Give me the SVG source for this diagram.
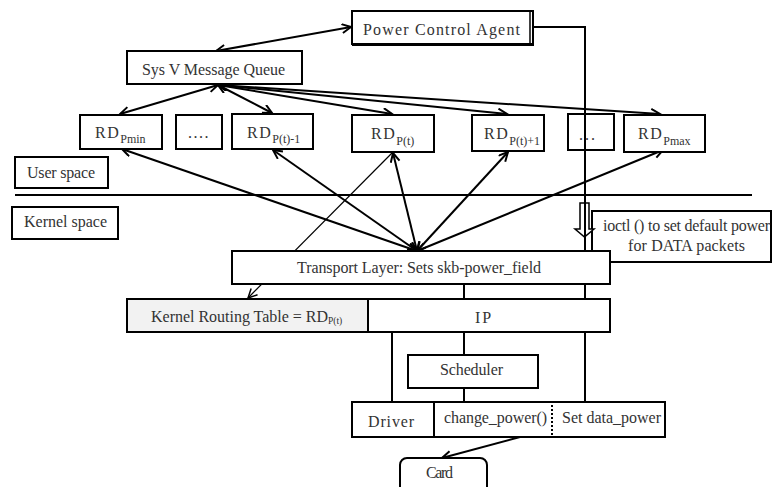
<svg xmlns="http://www.w3.org/2000/svg" width="773" height="487" viewBox="0 0 773 487">
<style>
.b{fill:#fff;stroke:#000;stroke-width:2}
.n{fill:none;stroke:#000;stroke-width:2}
.t{font-family:"Liberation Serif","Times New Roman",serif;font-size:16px;fill:#333}
.s{font-size:12px}
.xs{font-size:9.5px}
.c{fill:none;stroke:#000;stroke-width:2}
.a{marker-end:url(#ah)}
.d{marker-start:url(#ah);marker-end:url(#ah)}
</style>
<defs>
<marker id="ah" markerWidth="12" markerHeight="12" refX="10" refY="5" orient="auto-start-reverse" markerUnits="userSpaceOnUse">
<path d="M1,0.5 L10,5 L1,9.5" fill="none" stroke="#000" stroke-width="2"/>
</marker>
<marker id="ahs" markerWidth="12" markerHeight="12" refX="10" refY="5" orient="auto" markerUnits="userSpaceOnUse">
<path d="M1,0.5 L10,5 L1,9.5" fill="none" stroke="#000" stroke-width="1.5"/>
</marker>
</defs>

<g id="connectors">
<line class="c d" x1="216" y1="51" x2="351" y2="27"/>
<line class="c d" x1="218" y1="85" x2="120" y2="114"/>
<line class="c d" x1="218" y1="85" x2="272" y2="113"/>
<line class="c d" x1="218" y1="85" x2="392" y2="114"/>
<line class="c d" x1="218" y1="85" x2="507" y2="114"/>
<line class="c d" x1="218" y1="85" x2="660" y2="114"/>
<line class="c d" x1="417" y1="251" x2="122" y2="149"/>
<line class="c d" x1="417" y1="251" x2="273" y2="150"/>
<line class="c d" x1="417" y1="251" x2="393" y2="153"/>
<line class="c d" x1="417" y1="251" x2="508" y2="152"/>
<line class="c d" x1="417" y1="251" x2="663" y2="150"/>
<line x1="392" y1="153" x2="248" y2="298" stroke="#000" stroke-width="1.2" marker-end="url(#ahs)"/>
<line class="c" x1="15" y1="195" x2="752" y2="195"/>
<polyline class="c" points="533,27 585,27 585,402"/>
<line class="c" x1="464" y1="284" x2="464" y2="355"/>
<line class="c" x1="464" y1="388" x2="464" y2="402"/>
<line class="c" x1="392" y1="330" x2="392" y2="402"/>
<line class="c a" x1="520" y1="437" x2="442" y2="458"/>
</g>

<g id="pca">
<rect class="b" x="352" y="11" width="181" height="33"/>
<line x1="352" y1="44.5" x2="534" y2="44.5" stroke="#000" stroke-width="3"/>
<line x1="530" y1="11" x2="530" y2="44" stroke="#000" stroke-width="1.5"/>
<text class="t" x="363" y="35" textLength="157" lengthAdjust="spacing">Power Control Agent</text>
</g>

<g id="sysv">
<rect class="b" x="127" y="51" width="175" height="33"/>
<text class="t" x="142" y="75" textLength="143" lengthAdjust="spacing">Sys V Message Queue</text>
</g>

<g id="rd-pmin">
<rect class="b" x="80" y="115" width="82" height="34"/>
<text class="t" x="95" y="138" letter-spacing="1.5">RD<tspan class="s" dy="5" letter-spacing="0">Pmin</tspan></text>
</g>
<g id="dots1">
<rect class="b" x="176" y="115" width="46" height="34"/>
<text class="t" x="188" y="138" letter-spacing="1.5">....</text>
</g>
<g id="rd-pt-1">
<rect class="b" x="232" y="114" width="81" height="35"/>
<text class="t" x="247" y="138" letter-spacing="1.5">RD<tspan class="s" dy="5" letter-spacing="0">P(t)-1</tspan></text>
</g>
<g id="rd-pt">
<rect class="b" x="352" y="115" width="82" height="37"/>
<text class="t" x="371" y="139" letter-spacing="1.5">RD<tspan class="s" dy="6" letter-spacing="0">P(t)</tspan></text>
</g>
<g id="rd-pt1">
<rect class="b" x="472" y="115" width="72" height="36"/>
<text class="t" x="484" y="139" letter-spacing="1.5">RD<tspan class="s" dy="6" letter-spacing="0">P(t)+1</tspan></text>
</g>
<g id="dots2">
<rect class="n" x="568" y="114" width="46" height="36"/>
<text class="t" x="579" y="140" letter-spacing="2">...</text>
</g>
<g id="rd-pmax">
<rect class="b" x="624" y="115" width="81" height="37"/>
<text class="t" x="638" y="139" letter-spacing="1.5">RD<tspan class="s" dy="6" letter-spacing="0">Pmax</tspan></text>
</g>

<g id="user-space">
<rect class="b" x="15" y="157" width="93" height="31"/>
<text class="t" x="27" y="178" textLength="68" lengthAdjust="spacing">User space</text>
</g>
<g id="kernel-space">
<rect class="b" x="12" y="207" width="106" height="32"/>
<text class="t" x="24" y="227" textLength="83" lengthAdjust="spacing">Kernel space</text>
</g>

<g id="ioctl">
<rect class="b" x="592" y="211" width="179" height="51"/>
<text class="t" x="603" y="231" textLength="167" lengthAdjust="spacing">ioctl () to set default power</text>
<text class="t" x="628" y="251" textLength="117" lengthAdjust="spacing">for DATA packets</text>
<path d="M580,203 H589 V229 H594 L584.5,237 L575,229 H580 Z" fill="#fff" stroke="#000" stroke-width="1.5"/>
<line x1="585" y1="200" x2="585" y2="251" stroke="#000" stroke-width="2"/>
</g>

<g id="transport">
<rect class="b" x="232" y="251" width="378" height="33"/>
<text class="t" x="297" y="273" textLength="244" lengthAdjust="spacing">Transport Layer: Sets skb-power_field</text>
</g>

<g id="routing-table">
<rect x="127" y="299" width="241" height="33" fill="#f2f2f2" stroke="#000" stroke-width="2"/>
<text class="t" x="151" y="322"><tspan textLength="177" lengthAdjust="spacing">Kernel Routing Table = RD</tspan><tspan class="xs" dy="2">P(t)</tspan></text>
</g>
<g id="ip">
<rect class="b" x="368" y="299" width="242" height="33"/>
<text class="t" x="475" y="323" letter-spacing="2">IP</text>
</g>

<g id="scheduler">
<rect class="b" x="408" y="355" width="130" height="33"/>
<text class="t" x="440" y="375" textLength="63" lengthAdjust="spacing">Scheduler</text>
</g>

<g id="driver">
<rect class="b" x="352" y="402" width="313" height="35"/>
<line x1="434" y1="402" x2="434" y2="437" stroke="#000" stroke-width="2"/>
<line x1="552" y1="405" x2="552" y2="435" stroke="#000" stroke-width="2" stroke-dasharray="2,2"/>
<text class="t" x="368" y="427" textLength="46" lengthAdjust="spacing">Driver</text>
<text class="t" x="444" y="423" textLength="103" lengthAdjust="spacing">change_power()</text>
<text class="t" x="562" y="423" textLength="99" lengthAdjust="spacing">Set data_power</text>
</g>

<g id="card">
<rect class="b" x="400" y="458" width="87" height="40" rx="7"/>
<text class="t" x="426" y="478" textLength="27" lengthAdjust="spacing">Card</text>
</g>
</svg>
